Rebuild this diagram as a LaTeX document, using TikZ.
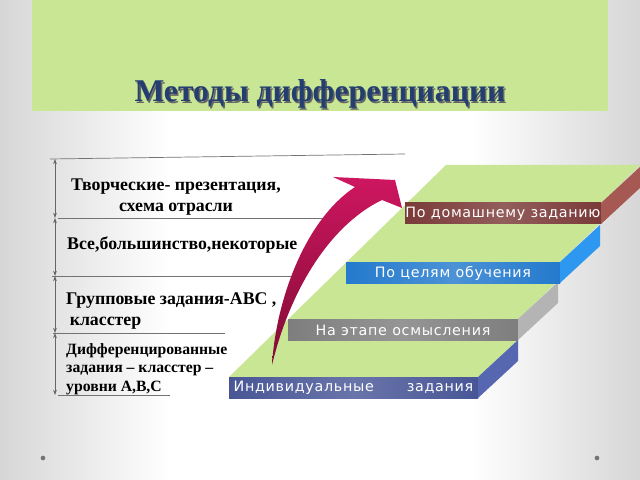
\documentclass[tikz,border=0pt]{standalone}
\usepackage{fontspec}
\setmainfont{Liberation Serif}
\newfontfamily\slabfont[LetterSpace=5.0]{DejaVu Sans}
\usetikzlibrary{arrows.meta}
\definecolor{slidegreen}{RGB}{200,230,148}
\definecolor{titleblue}{RGB}{36,62,112}
\definecolor{slabnavy}{RGB}{72,86,150}
\definecolor{slabnavyside}{RGB}{86,102,176}
\definecolor{slabgray}{RGB}{126,126,126}
\definecolor{slabgrayside}{RGB}{180,180,180}
\definecolor{slabblue}{RGB}{36,122,205}
\definecolor{slabblueside}{RGB}{46,152,240}
\definecolor{slabbrown}{RGB}{122,58,56}
\definecolor{slabbrownside}{RGB}{166,88,82}
\definecolor{arrowtop}{RGB}{206,22,96}
\definecolor{arrowbot}{RGB}{128,12,52}

\tikzset{
  rule/.style={black!55,line width=0.6pt},
  dimline/.style={black!60,line width=0.6pt,{Stealth[length=4.5pt,width=3.2pt]}-{Stealth[length=4.5pt,width=3.2pt]}},
  lefttext/.style={font=\bfseries\fontsize{15.2}{18}\selectfont,inner sep=0pt},
  slabtext/.style={font=\slabfont\fontsize{12.2}{14}\selectfont,text=white,inner sep=0pt}
}

\begin{document}
\begin{tikzpicture}[x=0.03cm,y=-0.03cm,line join=round]
\useasboundingbox (0,0) rectangle (640,480);
% slide background
\shade[left color=black!16,right color=white] (0,0) rectangle (170,480);
\fill[white] (170,0) rectangle (470,480);
\shade[left color=white,right color=black!16] (470,0) rectangle (640,480);
\fill[slidegreen] (32,0) rectangle (608,111);
\node[font=\bfseries\fontsize{27}{30}\selectfont,text=black!60,inner sep=0pt] (titleshadow) at (321.5,95.5) {Методы дифференциации};
\node[font=\bfseries\fontsize{27}{30}\selectfont,text=titleblue,inner sep=0pt] (title) at (320,94) {Методы дифференциации};
% left column
\draw[rule] (50,159) -- (405,154);
\draw[rule] (58,218) -- (325,218);
\draw[rule] (52,276) -- (300,276);
\draw[rule] (53,333) -- (225,333);
\draw[rule] (58,395) -- (170,395);
\foreach \ya/\yb in {159/218,218/276,276/333,333/395}
  \draw[dimline] (55,\ya) -- (55,\yb);
\node[lefttext,align=center] (tvor) at (176,197) {Творческие- презентация,\\схема отрасли};
\node[lefttext,anchor=west] (vse) at (67,245) {Все,большинство,некоторые};
\node[lefttext,anchor=west,align=left] (grup) at (66,311) {Групповые задания-АВС ,\\\hspace{3pt}класстер};
\node[lefttext,font=\bfseries\fontsize{13.4}{15.7}\selectfont,anchor=west,align=left] (diff) at (66,369) {Дифференцированные\\задания -- класстер --\\уровни А,В,С};
% green ramp
\fill[slidegreen] (229,377) -- (478,377) -- (518,340) -- (518,319) -- (557,282) -- (560,262)
  -- (598,225) -- (601,203) -- (640,165) -- (446,165) -- cycle;
% steps
\foreach \xl/\xr/\ya/\fc/\sc/\txt/\n in {
  229/478/377/slabnavy/slabnavyside/{Индивидуальные\hspace{2.3em}задания}/ind,
  288/518/319/slabgray/slabgrayside/{На этапе осмысления}/osm,
  346/560/262/slabblue/slabblueside/{По целям обучения}/cel,
  405/601/203/slabbrown/slabbrownside/{По домашнему заданию}/dom}{
  \shade[left color=\fc,right color=\fc,middle color=\fc!82!white] (\xl,\ya) rectangle (\xr,\ya+21);
  \fill[\sc] (\xr,\ya) -- ++(40,-37) -- ++(0,21) -- (\xr,\ya+21) -- cycle;
  \node[slabtext] (\n) at ({(\xl+\xr)/2},\ya+11) {\txt};
}
% curved arrow
\shade[top color=arrowtop,bottom color=arrowbot]
  (272,365) .. controls (276,300) and (305,220) .. (355,187)
  -- (333,177) -- (395,180) -- (402,208) -- (382,200)
  .. controls (330,225) and (290,290) .. (272,365) -- cycle;
% slide dots
\fill[black!55] (43,458) circle (2pt);
\fill[black!55] (597,458) circle (2pt);
\end{tikzpicture}
\end{document}
